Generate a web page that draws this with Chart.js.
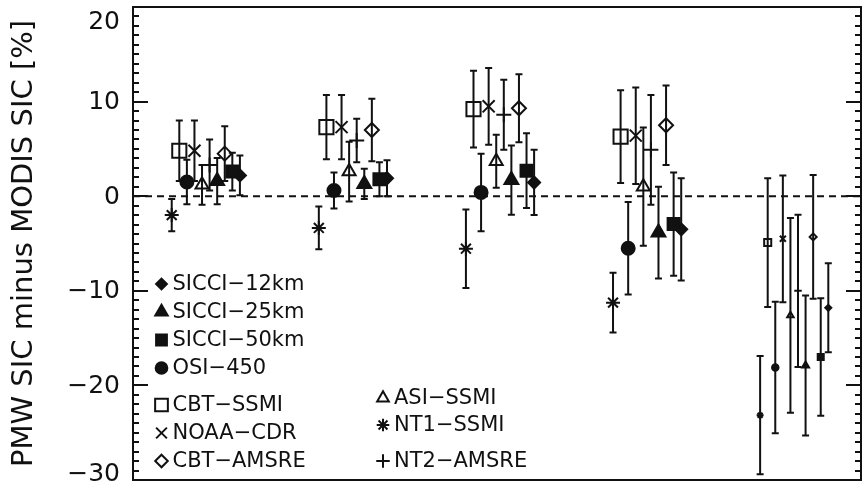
<!DOCTYPE html>
<html>
<head>
<meta charset="utf-8">
<script src="https://cdn.jsdelivr.net/npm/chart.js@4.4.1/dist/chart.umd.min.js"></script>
<style>
body { margin: 0; background: #fff; }
</style>
</head>
<body>
<canvas id="sicChart" width="862" height="488"></canvas>
<script>
//DATA TO BE PLACED IN CHART
//five comparison cases along x (axis has no labels)
const cases = [1, 2, 3, 4, 5];
//products, left to right inside each case
const products = ['NT1−SSMI', 'CBT−SSMI', 'OSI−450', 'NOAA−CDR', 'ASI−SSMI',
                  'NT2−AMSRE', 'SICCI−25km', 'CBT−AMSRE', 'SICCI−50km', 'SICCI−12km'];

//PMW SIC minus MODIS SIC [%], one value per case
let nt1Ssmi  = [-2.0, -3.35, -5.55, -11.25, -23.15];
let cbtSsmi  = [4.8, 7.3, 9.2, 6.3, -4.9];
let osi450   = [1.5, 0.6, 0.4, -5.5, -18.1];
let noaaCdr  = [4.8, 7.3, 9.5, 6.4, -4.5];
let asiSsmi  = [1.2, 2.6, 3.7, 1.0, -12.6];
let nt2Amsre = [3.3, 5.9, 8.6, 4.9, -10.0];
let sicci25  = [1.6, 1.3, 1.7, -3.85, -17.9];
let cbtAmsre = [4.5, 7.0, 9.3, 7.5, -4.3];
let sicci50  = [2.6, 1.8, 2.7, -2.95, -17.0];
let sicci12  = [2.2, 1.9, 1.45, -3.5, -11.8];

//error bar half length [%]
let nt1SsmiErr  = [1.7, 2.25, 4.15, 3.15, 6.25];
let cbtSsmiErr  = [3.2, 3.4, 4.05, 4.9, 6.8];
let osi450Err   = [2.35, 1.9, 4.1, 4.9, 6.95];
let noaaCdrErr  = [3.2, 3.4, 4.05, 5.1, 6.7];
let asiSsmiErr  = [2.1, 3.15, 2.8, 6.25, 10.3];
let nt2AmsreErr = [2.7, 2.3, 3.7, 5.8, 8.05];
let sicci25Err  = [2.45, 1.6, 3.65, 4.85, 7.4];
let cbtAmsreErr = [2.9, 3.3, 3.6, 4.2, 6.55];
let sicci50Err  = [2.0, 1.8, 3.95, 5.45, 6.2];
let sicci12Err  = [2.1, 1.9, 3.45, 5.4, 4.7];

//y ticks
const yTicks = [20, 10, 0, -10, -20, -30];

const means = [nt1Ssmi, cbtSsmi, osi450, noaaCdr, asiSsmi, nt2Amsre, sicci25, cbtAmsre, sicci50, sicci12];
const errors = [nt1SsmiErr, cbtSsmiErr, osi450Err, noaaCdrErr, asiSsmiErr, nt2AmsreErr, sicci25Err, cbtAmsreErr, sicci50Err, sicci12Err];

//STYLE
const ink = '#111';
const font = 'DejaVu Sans';
//symbol per product (same order as products)
const symbols = [
    {style: 'star', filled: false, r: 7},
    {style: 'rect', filled: false, r: 10},
    {style: 'circle', filled: true, r: 6.5},
    {style: 'crossRot', filled: false, r: 8.5},
    {style: 'triangle', filled: false, r: 7.5},
    {style: 'cross', filled: false, r: 7.5},
    {style: 'triangle', filled: true, r: 8},
    {style: 'rectRot', filled: false, r: 7},
    {style: 'rect', filled: true, r: 8.5},
    {style: 'rectRot', filled: true, r: 6}
];
//legend slots: [marker x, row y]
const legendSlots = {
    'SICCI−12km': [161.5, 284], 'SICCI−25km': [161.5, 312], 'SICCI−50km': [161.5, 340],
    'OSI−450': [161.5, 368], 'CBT−SSMI': [161.5, 405], 'NOAA−CDR': [161.5, 433],
    'CBT−AMSRE': [161.5, 461], 'ASI−SSMI': [383, 398], 'NT1−SSMI': [383, 425],
    'NT2−AMSRE': [383, 461]
};
const step = 0.0515; //spacing of products inside a case

//datasets
const datasets = products.map((name, j) => {
    const s = symbols[j];
    return {
        label: name,
        data: cases.map((c, k) => ({x: c + (j - 4.5) * step, y: means[j][k]})),
        errors: errors[j],
        showLine: false,
        pointStyle: s.style,
        // last case is drawn with smaller symbols
        pointRadius: ctx => ctx.dataIndex === 4 ? s.r * 0.5 : s.r,
        pointHoverRadius: ctx => ctx.dataIndex === 4 ? s.r * 0.5 : s.r,
        pointBorderWidth: 2,
        pointBorderColor: ink,
        pointBackgroundColor: s.filled ? ink : 'rgba(0,0,0,0)'
    };
});

//PLUGINS
const frame = {
    id: 'frame',
    beforeDatasetsDraw(chart) {
        const {ctx, chartArea: a, scales: {y}} = chart;
        ctx.save();
        ctx.strokeStyle = ink;
        // zero line
        ctx.lineWidth = 2;
        ctx.setLineDash([7, 5]);
        ctx.beginPath();
        ctx.moveTo(a.left, y.getPixelForValue(0));
        ctx.lineTo(a.right, y.getPixelForValue(0));
        ctx.stroke();
        ctx.setLineDash([]);
        // error bars
        chart.data.datasets.forEach((ds, i) => {
            const meta = chart.getDatasetMeta(i);
            meta.data.forEach((pt, k) => {
                const v = ds.data[k].y, e = ds.errors[k];
                const y1 = y.getPixelForValue(v + e), y2 = y.getPixelForValue(v - e);
                ctx.beginPath();
                ctx.moveTo(pt.x, y1); ctx.lineTo(pt.x, y2);
                ctx.moveTo(pt.x - 3.5, y1); ctx.lineTo(pt.x + 3.5, y1);
                ctx.moveTo(pt.x - 3.5, y2); ctx.lineTo(pt.x + 3.5, y2);
                ctx.stroke();
            });
        });
        ctx.restore();
    },
    afterDraw(chart) {
        const {ctx, chartArea: a, scales: {y}} = chart;
        ctx.save();
        ctx.strokeStyle = ink;
        ctx.lineWidth = 2;
        ctx.strokeRect(a.left, a.top, a.right - a.left, a.bottom - a.top);
        // inward ticks on both sides, minor every 1 %
        for (let v = -30; v <= 20; v++) {
            const p = Math.round(y.getPixelForValue(v));
            const len = v % 10 === 0 ? 15 : 6;
            ctx.beginPath();
            ctx.moveTo(a.left, p); ctx.lineTo(a.left + len, p);
            ctx.moveTo(a.right, p); ctx.lineTo(a.right - len, p);
            ctx.stroke();
        }
        // tick labels
        ctx.fillStyle = ink;
        ctx.font = '25px "' + font + '"';
        ctx.textAlign = 'right';
        ctx.textBaseline = 'middle';
        yTicks.forEach(v => {
            let p = y.getPixelForValue(v);
            p = Math.min(Math.max(p, a.top + 14), a.bottom - 7);
            ctx.fillText(v < 0 ? '−' + Math.abs(v) : String(v), a.left - 13, p + 1);
        });
        // legend
        ctx.font = '21px "' + font + '"';
        ctx.textAlign = 'left';
        chart.data.datasets.forEach((ds, j) => {
            const [lx, ly] = legendSlots[ds.label];
            const s = symbols[j];
            ctx.fillStyle = s.filled ? ink : 'rgba(0,0,0,0)';
            ctx.lineWidth = 2;
            Chart.helpers.drawPoint(ctx, {pointStyle: s.style, radius: s.r * 0.9, borderWidth: 2, rotation: 0}, lx, ly);
            ctx.fillStyle = ink;
            ctx.fillText(ds.label, lx + 11, ly + 1);
        });
        ctx.restore();
    }
};

//CONFIG
const config = {
    type: 'scatter',
    data: {datasets: datasets},
    options: {
        responsive: false,
        animation: false,
        layout: {autoPadding: false, padding: {top: 7, right: 1, bottom: 8, left: 0}},
        plugins: {legend: {display: false}, tooltip: {enabled: false}},
        scales: {
            x: {type: 'linear', display: false, min: 0.505, max: 5.454},
            y: {
                min: -30, max: 20,
                grid: {display: false},
                border: {display: false},
                ticks: {display: false},
                title: {
                    display: true,
                    text: 'PMW SIC minus MODIS SIC [%]',
                    color: ink,
                    font: {family: font, size: 29},
                    padding: {top: 7, bottom: 0}
                },
                afterFit(scale) { scale.width = 133; }
            }
        }
    },
    plugins: [frame]
};

//render
const sicChart = new Chart(document.getElementById('sicChart').getContext('2d'), config);
</script>
</body>
</html>
